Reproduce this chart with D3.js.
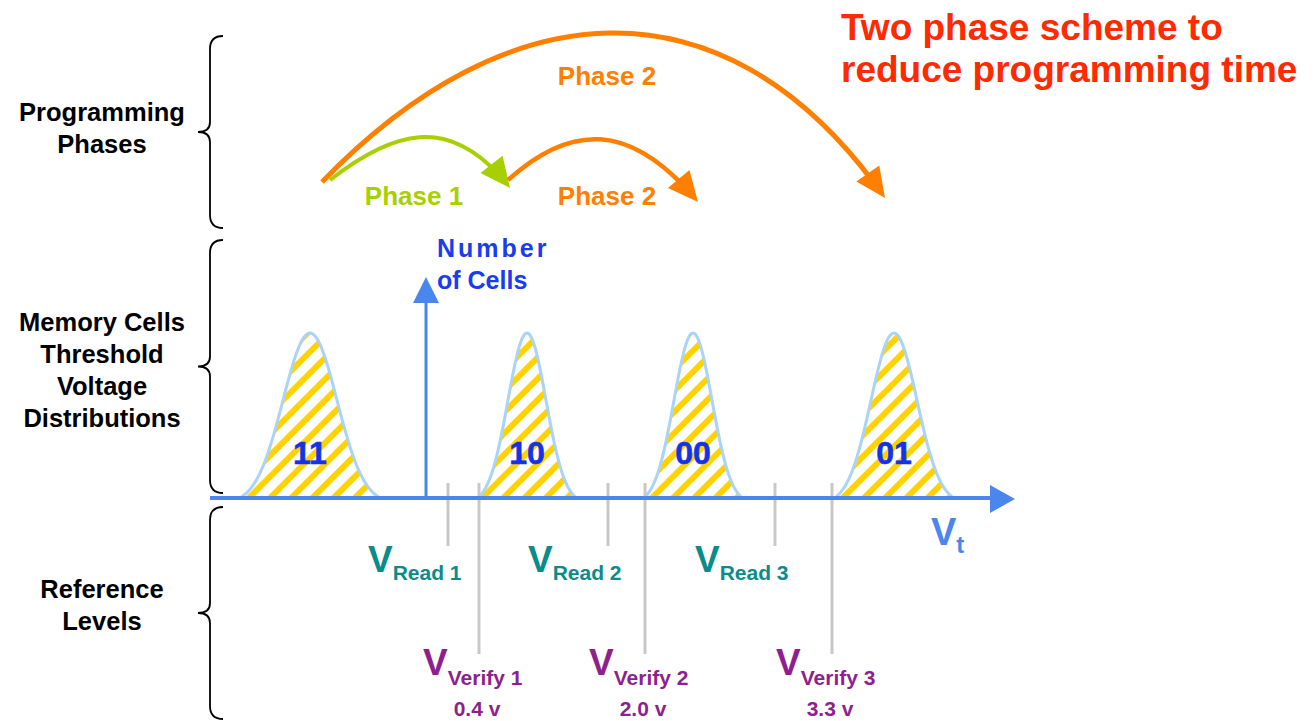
<!DOCTYPE html>
<html lang="en">
  <head>
    <meta charset="utf-8" />
    <style>
      body { margin: 0; background: #fff; }
      svg text { font-family: "Liberation Sans", Arial, sans-serif; font-weight: bold; }
    </style>
  </head>
  <body>
    <script type="text/javascript" src="https://d3js.org/d3.v7.min.js"></script>
    <script>
      var width = 1313,
        height = 721;

      // threshold voltage axis in arbitrary units
      var states = ["11", "10", "00", "01"];
      var stateCenters = [1.0, 3.17, 4.83, 6.84];
      var stateSigmas = [0.27, 0.19, 0.19, 0.23];

      var readNames = ["Read 1", "Read 2", "Read 3"];
      var readLevels = [2.38, 3.98, 5.65];

      var verifyNames = ["Verify 1", "Verify 2", "Verify 3"];
      var verifyLevels = [2.69, 4.35, 6.22];
      var verifyVolts = ["0.4 v", "2.0 v", "3.3 v"];

      var sections = ["Programming\nPhases", "Memory Cells\nThreshold\nVoltage\nDistributions", "Reference\nLevels"];
      var sectionTops = [36, 240, 507];
      var sectionBottoms = [228, 493, 719];
      var sectionFirstBaseline = [121, 331, 598];

      // programming phase arrows (from / to in Vt units)
      var phaseNames = ["Phase 1", "Phase 2", "Phase 2"];
      var phaseFrom = [1.2, 2.98, 1.12];
      var phaseTo = [3.0, 4.88, 6.75];
      var phaseColors = ["#a8d000", "#ff8000", "#ff8000"];

      var x = d3.scaleLinear().domain([0, 8]).range([210, 1010]);
      var y = d3.scaleLinear().domain([0, 1]).range([498, 333]);

      var svg = d3.select("body").append("svg")
        .attr("width", width)
        .attr("height", height);

      var defs = svg.append("defs");
      var pat = defs.append("pattern")
        .attr("id", "hatch")
        .attr("patternUnits", "userSpaceOnUse")
        .attr("width", 15)
        .attr("height", 15)
        .attr("patternTransform", "rotate(45)");
      pat.append("rect").attr("width", 15).attr("height", 15).attr("fill", "#fff");
      pat.append("rect").attr("width", 6).attr("height", 15).attr("fill", "#ffd200");

      // title
      var title = svg.append("text")
        .attr("x", 841)
        .attr("y", 40)
        .attr("fill", "#ff2a00")
        .style("font-size", "37px");
      title.append("tspan").attr("x", 841).text("Two phase scheme to");
      title.append("tspan").attr("x", 841).attr("dy", 42).text("reduce programming time");

      // section labels and braces
      sections.forEach(function (s, i) {
        var lines = s.split("\n");
        var mid = (sectionTops[i] + sectionBottoms[i]) / 2;
        var t = svg.append("text")
          .attr("text-anchor", "middle")
          .attr("fill", "#000")
          .style("font-size", "25.5px");
        lines.forEach(function (l, j) {
          t.append("tspan").attr("x", 102).attr("y", sectionFirstBaseline[i] + j * 32).text(l);
        });

        var bx = 210, t0 = sectionTops[i], t1 = sectionBottoms[i];
        var p = d3.path();
        p.moveTo(bx + 13, t0);
        p.quadraticCurveTo(bx, t0, bx, t0 + 13);
        p.lineTo(bx, mid - 10);
        p.quadraticCurveTo(bx, mid, bx - 12, mid);
        p.quadraticCurveTo(bx, mid, bx, mid + 10);
        p.lineTo(bx, t1 - 13);
        p.quadraticCurveTo(bx, t1, bx + 13, t1);
        svg.append("path")
          .attr("d", p.toString())
          .attr("fill", "none")
          .attr("stroke", "#000")
          .attr("stroke-width", 1.8);
      });

      // distributions
      function curve(c, s) {
        var pts = [];
        var lim = 2.6;
        var e0 = Math.exp(-lim * lim / 2);
        for (var z = -lim; z <= lim + 1e-9; z += 0.05) {
          var v = (Math.exp(-z * z / 2) - e0) / (1 - e0);
          pts.push([c + z * s, v]);
        }
        return pts;
      }
      var line = d3.line().x(function (d) { return x(d[0]); }).y(function (d) { return y(d[1]); })
        .curve(d3.curveBasis);

      states.forEach(function (st, i) {
        var pts = curve(stateCenters[i], stateSigmas[i]);
        svg.append("path")
          .attr("d", line(pts))
          .attr("fill", "url(#hatch)")
          .attr("stroke", "#a9d3f7")
          .attr("stroke-width", 3);
        svg.append("text")
          .attr("x", x(stateCenters[i]))
          .attr("y", 464)
          .attr("text-anchor", "middle")
          .attr("fill", "#1433e8")
          .attr("stroke", "#1433e8")
          .attr("stroke-width", 0.6)
          .style("font-size", "32px")
          .text(st);
      });

      // reference level marks
      var grey = "#c8c8c8";
      readLevels.forEach(function (r, i) {
        svg.append("line")
          .attr("x1", x(r)).attr("x2", x(r))
          .attr("y1", 483).attr("y2", 546)
          .attr("stroke", grey).attr("stroke-width", 3);
        var t = svg.append("text")
          .attr("x", x(r) - 80)
          .attr("y", 572)
          .attr("fill", "#0b8b8b")
          .style("font-size", "37px");
        t.append("tspan").text("V");
        t.append("tspan").attr("dy", 8).style("font-size", "21px").text(readNames[i]);
      });
      verifyLevels.forEach(function (r, i) {
        svg.append("line")
          .attr("x1", x(r)).attr("x2", x(r))
          .attr("y1", 483).attr("y2", 654)
          .attr("stroke", grey).attr("stroke-width", 3);
        var t = svg.append("text")
          .attr("x", x(r) - 56)
          .attr("y", 675)
          .attr("fill", "#8e1f8e")
          .style("font-size", "37px");
        t.append("tspan").text("V");
        t.append("tspan").attr("dy", 10).style("font-size", "21px").text(verifyNames[i]);
        svg.append("text")
          .attr("x", x(r) - 2)
          .attr("y", 716)
          .attr("text-anchor", "middle")
          .attr("fill", "#8e1f8e")
          .style("font-size", "21px")
          .text(verifyVolts[i]);
      });

      // axes
      var axisColor = "#4a86ee";
      svg.append("line")
        .attr("x1", x(0)).attr("x2", x(7.82))
        .attr("y1", 498).attr("y2", 498)
        .attr("stroke", axisColor).attr("stroke-width", 4);
      svg.append("path")
        .attr("d", d3.line()([[x(7.8), 485], [x(8.05), 499], [x(7.8), 513]]) + "Z")
        .attr("fill", axisColor);
      var yAxisX = x(2.16);
      svg.append("line")
        .attr("x1", yAxisX).attr("x2", yAxisX)
        .attr("y1", 498).attr("y2", y(1.2))
        .attr("stroke", axisColor).attr("stroke-width", 3);
      svg.append("path")
        .attr("d", d3.line()([[yAxisX - 13, 303], [yAxisX, 277], [yAxisX + 13, 303]]) + "Z")
        .attr("fill", axisColor);

      var vt = svg.append("text")
        .attr("x", 931).attr("y", 545)
        .attr("fill", axisColor)
        .style("font-size", "38px");
      vt.append("tspan").text("V");
      vt.append("tspan").attr("dy", 8).style("font-size", "24px").text("t");

      var nc = svg.append("text").attr("fill", "#1a3cf0").style("font-size", "25px");
      nc.append("tspan").attr("x", 437).attr("y", 257).style("letter-spacing", "3px").text("Number");
      nc.append("tspan").attr("x", 437).attr("y", 289).text("of Cells");

      // phase arrows
      var phaseStartY = [180, 180, 182];
      var phaseEndY = [188, 202, 198];
      var phasePeakY = [137, 140, 33];
      var phaseStartAng = [38, 42, 46];
      var phaseEndAng = [52, 50, 55];
      var phaseWidth = [4, 4.5, 5];
      var phaseLabelY = [205, 205, 85];

      phaseNames.forEach(function (name, i) {
        var x0 = x(phaseFrom[i]), y0 = phaseStartY[i];
        var x1 = x(phaseTo[i]), y1 = phaseEndY[i];
        var a0 = phaseStartAng[i] * Math.PI / 180, a1 = phaseEndAng[i] * Math.PI / 180;
        var s0 = Math.sin(a0), s1 = Math.sin(a1);
        var k = (4 * y0 + 4 * y1 - 8 * phasePeakY[i]) / (3 * (s0 + s1));
        var p1 = [x0 + k * Math.cos(a0), y0 - k * s0];
        var p2 = [x1 - k * Math.cos(a1), y1 - k * s1];
        var p = d3.path();
        p.moveTo(x0, y0);
        p.bezierCurveTo(p1[0], p1[1], p2[0], p2[1], x1, y1);
        var el = svg.append("path")
          .attr("d", p.toString())
          .attr("fill", "none")
          .attr("stroke", phaseColors[i])
          .attr("stroke-width", phaseWidth[i]);
        var len = el.node().getTotalLength();
        el.attr("stroke-dasharray", (len - 18) + "," + 2000);

        // arrow head along end direction
        var ang = Math.atan2(y1 - p2[1], x1 - p2[0]);
        var hl = 30, hw = 14;
        var bxc = x1 - hl * Math.cos(ang), byc = y1 - hl * Math.sin(ang);
        var nx = -Math.sin(ang), ny = Math.cos(ang);
        svg.append("path")
          .attr("d", d3.line()([[x1, y1], [bxc + nx * hw, byc + ny * hw], [bxc - nx * hw, byc - ny * hw]]) + "Z")
          .attr("fill", phaseColors[i]);

        svg.append("text")
          .attr("x", i == 0 ? 414 : 607)
          .attr("y", phaseLabelY[i])
          .attr("text-anchor", "middle")
          .attr("fill", phaseColors[i])
          .style("font-size", "26px")
          .text(name);
      });
    </script>
  </body>
</html>
